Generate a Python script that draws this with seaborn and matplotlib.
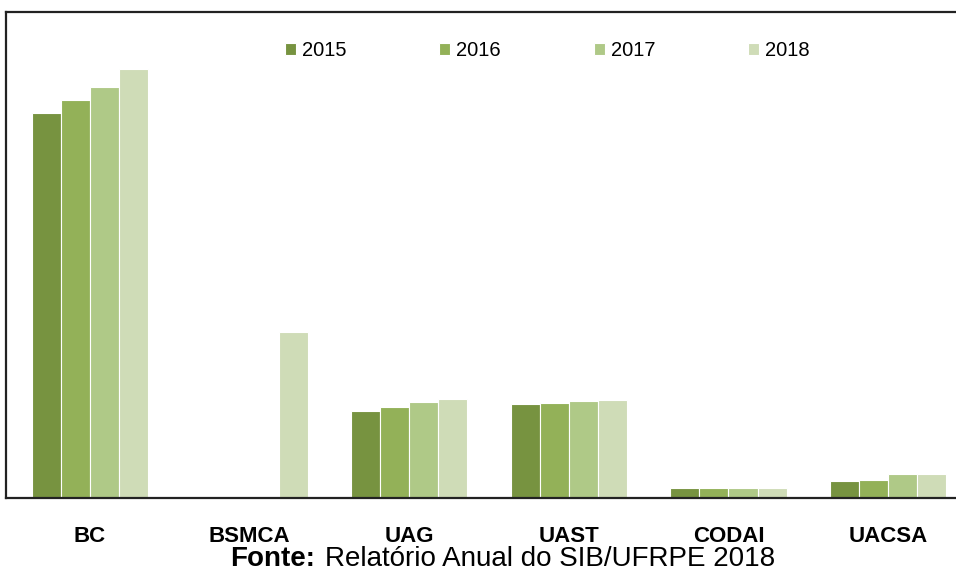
import numpy as np
import pandas as pd
import matplotlib
matplotlib.use("Agg")
import matplotlib.pyplot as plt
import seaborn as sns

# ======================
# DATA (no y axis shown)
# ======================
categories = ["BC", "BSMCA", "UAG", "UAST", "CODAI", "UACSA"]
years = ["2015", "2016", "2017", "2018"]
v2015 = [385, 0, 87, 94, 10, 17]
v2016 = [398, 0, 91, 95, 10, 18]
v2017 = [411, 0, 96, 97, 10, 24]
v2018 = [429, 166, 99, 98, 10, 24]
colors = ["#779340", "#93b158", "#afc987", "#cfdcb7"]

df = pd.DataFrame({
    "unidade": categories * 4,
    "ano": np.repeat(years, len(categories)),
    "valor": v2015 + v2016 + v2017 + v2018,
})

sns.set_style("white")
plt.rcParams["font.family"] = ["Liberation Sans", "DejaVu Sans"]
plt.rcParams["text.color"] = "black"

W, H = 956, 573
fig = plt.figure(figsize=(W / 100, H / 100), dpi=100)
ax = fig.add_axes([6 / W, 75 / H, 1 - 6 / W, (498 - 12) / H])

sns.barplot(data=df, x="unidade", y="valor", hue="ano", palette=colors,
            width=0.73, edgecolor="white", linewidth=0.8, saturation=1,
            ax=ax)

ax.set_ylim(0, 486)
ax.set_xlim((6 - 90) / 159.6, (956 - 90) / 159.6)
ax.set_yticks([])
ax.set_xlabel("")
ax.set_ylabel("")
ax.tick_params(axis="x", length=0, pad=20, labelcolor="black")
for lab in ax.get_xticklabels():
    lab.set_fontsize(16)
    lab.set_fontweight("bold")

for side in ["left", "top", "bottom"]:
    ax.spines[side].set_visible(True)
    ax.spines[side].set_color("#222222")
    ax.spines[side].set_linewidth(1.6)
ax.spines["right"].set_visible(False)

ax.legend(loc="upper left", bbox_to_anchor=(285 / W, 1 - 41 / H),
          bbox_transform=fig.transFigure, ncol=4, frameon=False,
          fontsize=14.5, handlelength=0.55, handleheight=0.55,
          handletextpad=0.3, columnspacing=4.6, borderpad=0,
          borderaxespad=0, labelcolor="black")

fig.text(230 / W, 1 - 566 / H, "Fonte:", fontsize=20, fontweight="bold",
         ha="left", va="baseline")
fig.text(325 / W, 1 - 566 / H, "Relatório Anual do SIB/UFRPE 2018",
         fontsize=20, ha="left", va="baseline")

fig.savefig("out.png", dpi=100)
